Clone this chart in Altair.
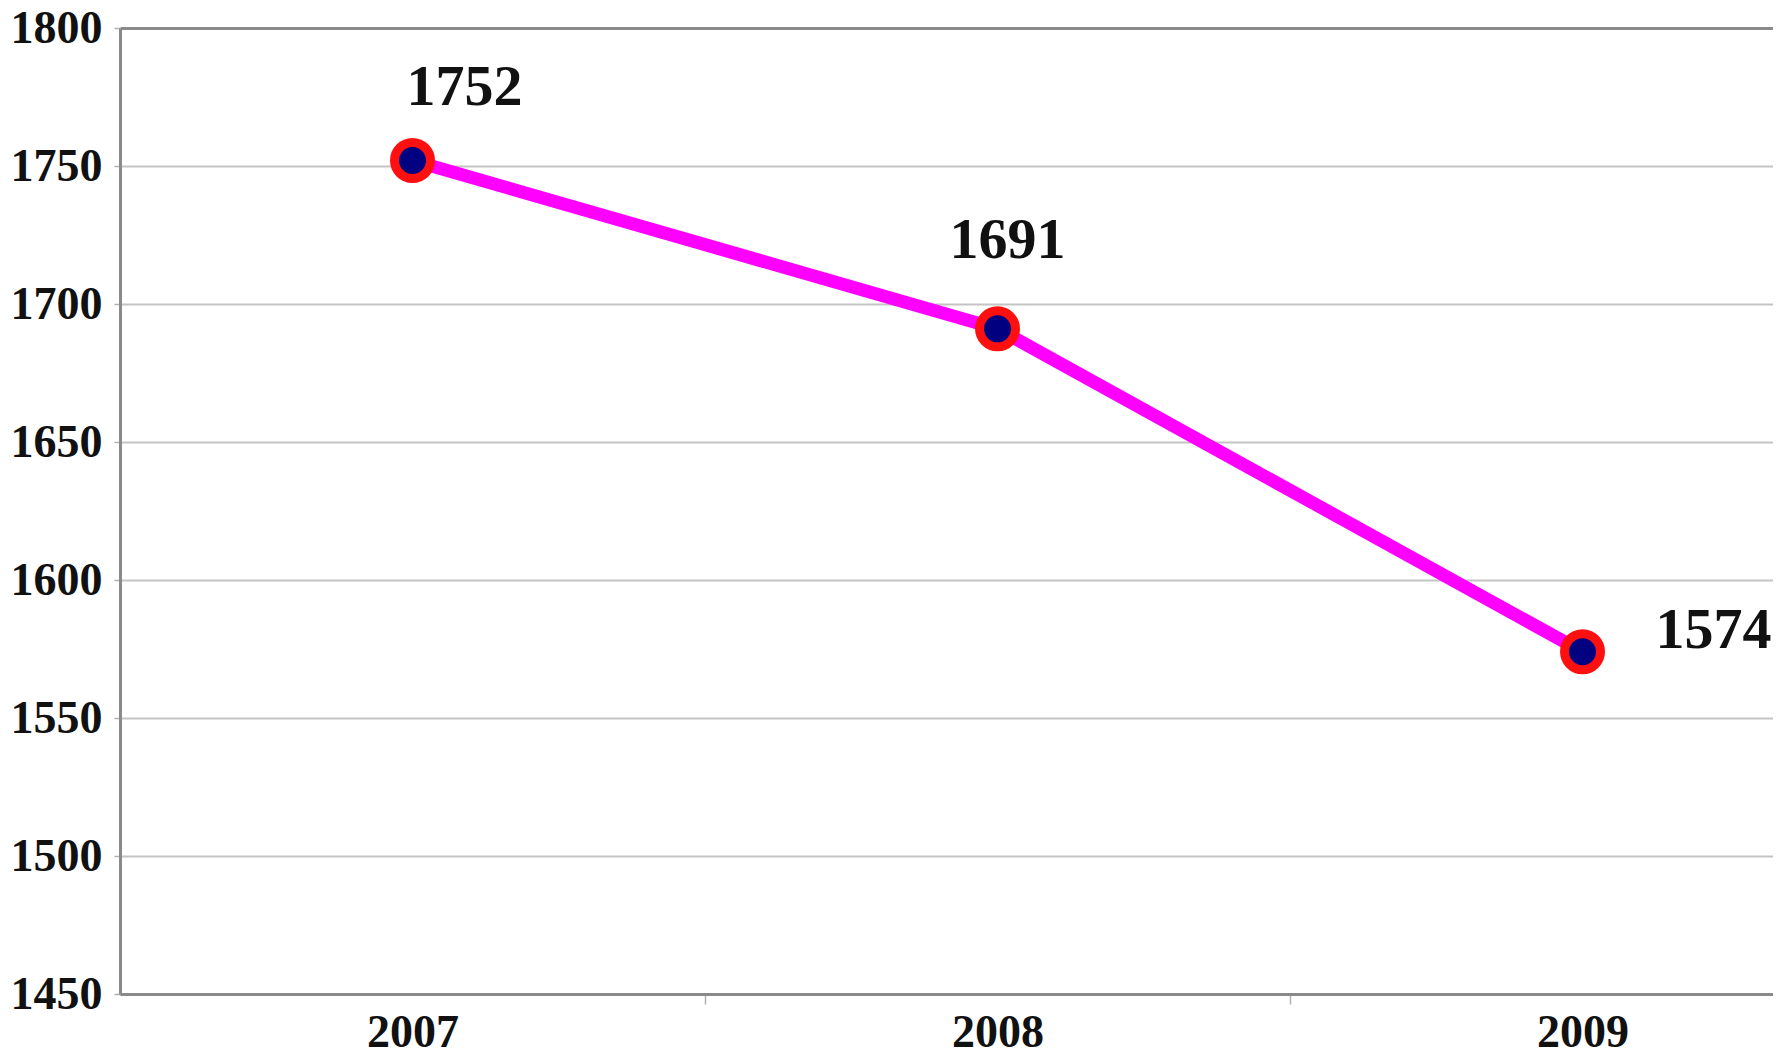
import altair as alt
import pandas as pd

years = [2007, 2008, 2009]
values = [1752, 1691, 1574]

# label placement offsets (style)
label_dx = [52, 10, 131]
label_dy = [-72, -88, -21]

df = pd.DataFrame({"year": years, "value": values})

FONT = "Liberation Serif"

x_scale = alt.Scale(domain=[2006.5, 2009.3256], nice=False, zero=False)
y_scale = alt.Scale(domain=[1450, 1800], nice=False, zero=False)

x_enc = alt.X(
    "year:Q",
    scale=x_scale,
    axis=alt.Axis(
        title=None,
        values=[2007, 2007.5, 2008, 2008.5, 2009],
        labelExpr="datum.value % 1 == 0 ? '' + datum.value : ''",
        grid=False,
        domainColor="#8a8a8a",
        domainWidth=3,
        tickColor="#b0b0b0",
        tickWidth=1.5,
        tickSize=10,
        tickOpacity=alt.ExprRef(expr="datum.value % 1 == 0 ? 0 : 1"),
        labelFont=FONT,
        labelFontWeight="bold",
        labelFontSize=46,
        labelColor="#111111",
        labelPadding=6,
        labelFlush=False,
        labelOverlap=False,
    ),
)
y_enc = alt.Y(
    "value:Q",
    scale=y_scale,
    axis=alt.Axis(
        title=None,
        values=[1450, 1500, 1550, 1600, 1650, 1700, 1750, 1800],
        format="d",
        grid=True,
        gridColor=alt.ExprRef(expr="datum.value == 1800 ? '#8a8a8a' : '#c4c4c4'"),
        gridWidth=alt.ExprRef(expr="datum.value == 1800 ? 3 : 2"),
        domainColor="#8a8a8a",
        domainWidth=3,
        tickColor="#b0b0b0",
        tickWidth=1.5,
        tickSize=6,
        labelFont=FONT,
        labelFontWeight="bold",
        labelFontSize=46,
        labelColor="#111111",
        labelPadding=12,
        labelBaseline="middle",
        labelFlush=False,
        labelOverlap=False,
    ),
)

base = alt.Chart(df)

line = base.mark_line(color="#ff00ff", strokeWidth=13).encode(x=x_enc, y=y_enc)
points = base.mark_point(
    shape="circle", size=1296, filled=False, fill="#000080", fillOpacity=1,
    stroke="#ff1010", strokeWidth=9, opacity=1,
).encode(x="year:Q", y="value:Q")

texts = []
for yr, dx, dy in zip(years, label_dx, label_dy):
    texts.append(
        base.transform_filter(alt.datum.year == yr)
        .mark_text(font=FONT, fontWeight="bold", fontSize=58, color="#111111",
                   align="center", baseline="middle", dx=dx, dy=dy)
        .encode(x="year:Q", y="value:Q", text="value:Q")
    )

chart = alt.layer(line, points, *texts).properties(
    width=1653,
    height=966,
    autosize=alt.AutoSizeParams(type="none"),
    padding={"left": 112, "top": 20, "right": 0, "bottom": 57},
    background="white",
).configure_view(stroke=None)

chart.save("out.html", embed_options={"renderer": "svg", "actions": False})
